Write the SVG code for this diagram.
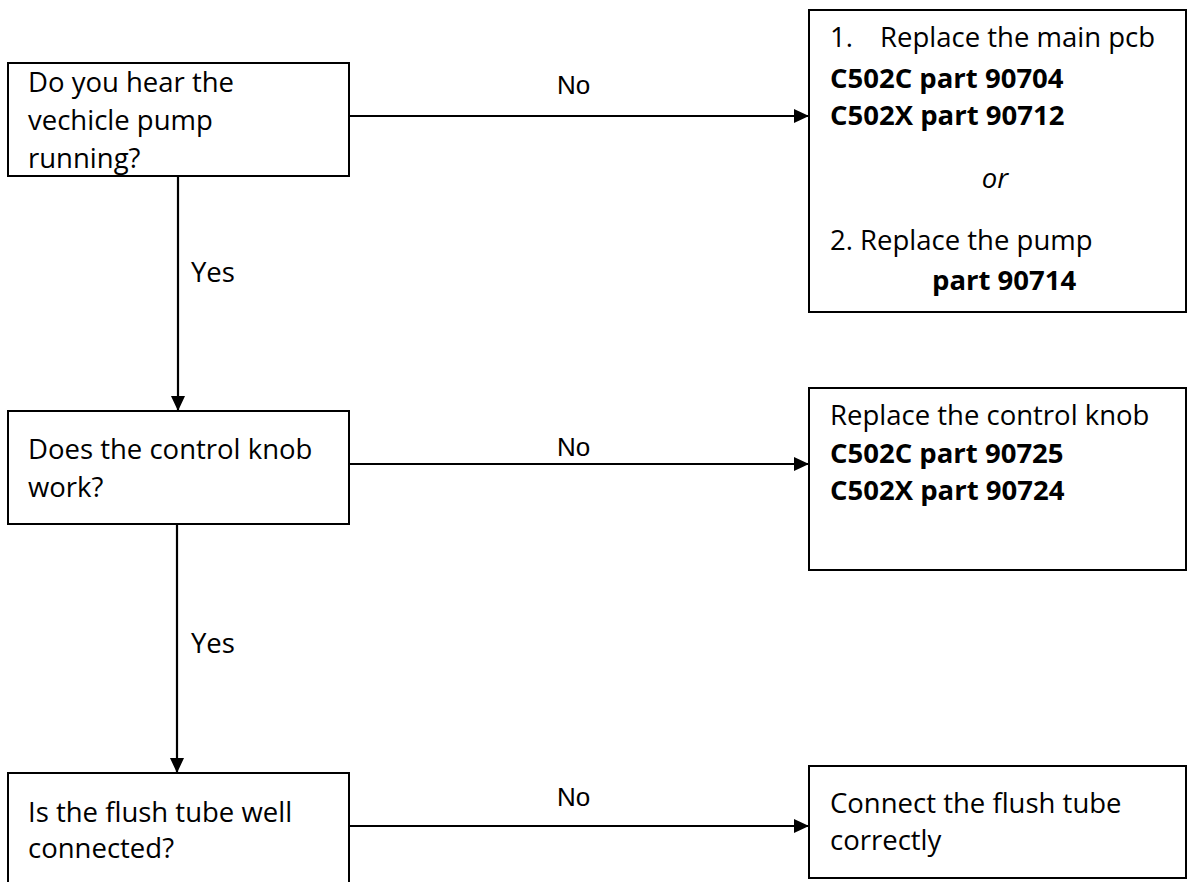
<svg xmlns="http://www.w3.org/2000/svg" width="1187" height="882" viewBox="0 0 1187 882">
<style>
.box{fill:#fff;stroke:#000;stroke-width:2}
.t{font-family:"Open Sans","Liberation Sans",sans-serif;font-size:27.5px;fill:#000}
.b{font-weight:bold}
.i{font-style:italic}
.lbl{font-family:"Liberation Sans",Arial,sans-serif;font-size:26px;fill:#000}
.ln{stroke:#000;stroke-width:2.2;fill:none}
</style>
<defs>
<marker id="ah" viewBox="0 0 15 14" refX="15" refY="7" markerWidth="15" markerHeight="14" markerUnits="userSpaceOnUse" orient="auto">
<path d="M0,0 L15,7 L0,14 Z" fill="#000"/>
</marker>
</defs>
<rect width="1187" height="882" fill="#fff"/>
<g id="connectors">
<line class="ln" x1="349" y1="116" x2="809" y2="116" marker-end="url(#ah)"/>
<line class="ln" x1="349" y1="464" x2="809" y2="464" marker-end="url(#ah)"/>
<line class="ln" x1="349" y1="826" x2="809" y2="826" marker-end="url(#ah)"/>
<line class="ln" x1="178" y1="176" x2="178" y2="411" marker-end="url(#ah)"/>
<line class="ln" x1="177" y1="524" x2="177" y2="773" marker-end="url(#ah)"/>
<text class="lbl" x="557" y="94">No</text>
<text class="lbl" x="557" y="456">No</text>
<text class="lbl" x="557" y="806">No</text>
<text class="t" x="191" y="282">Yes</text>
<text class="t" x="191" y="653">Yes</text>
</g>
<g id="q1">
<rect class="box" x="8" y="63" width="341" height="113"/>
<text class="t" x="28" y="92">Do you hear the</text>
<text class="t" x="28" y="130">vechicle pump</text>
<text class="t" x="28" y="168">running?</text>
</g>
<g id="a1">
<rect class="box" x="809" y="10" width="377" height="302"/>
<text class="t" x="830" y="47">1.<tspan x="880">Replace the main pcb</tspan></text>
<text class="t b" x="830" y="88">C502C part 90704</text>
<text class="t b" x="830" y="125">C502X part 90712</text>
<text class="t i" x="995" y="188" text-anchor="middle">or</text>
<text class="t" x="830" y="250">2. Replace the pump</text>
<text class="t b" x="932" y="290">part 90714</text>
</g>
<g id="q2">
<rect class="box" x="8" y="411" width="341" height="113"/>
<text class="t" x="28" y="459">Does the control knob</text>
<text class="t" x="28" y="497">work?</text>
</g>
<g id="a2">
<rect class="box" x="809" y="388" width="377" height="182"/>
<text class="t" x="830" y="425">Replace the control knob</text>
<text class="t b" x="830" y="463">C502C part 90725</text>
<text class="t b" x="830" y="500">C502X part 90724</text>
</g>
<g id="q3">
<rect class="box" x="8" y="773" width="341" height="130"/>
<text class="t" x="28" y="822">Is the flush tube well</text>
<text class="t" x="28" y="858">connected?</text>
</g>
<g id="a3">
<rect class="box" x="809" y="766" width="377" height="112"/>
<text class="t" x="830" y="813">Connect the flush tube</text>
<text class="t" x="830" y="850">correctly</text>
</g>
</svg>
